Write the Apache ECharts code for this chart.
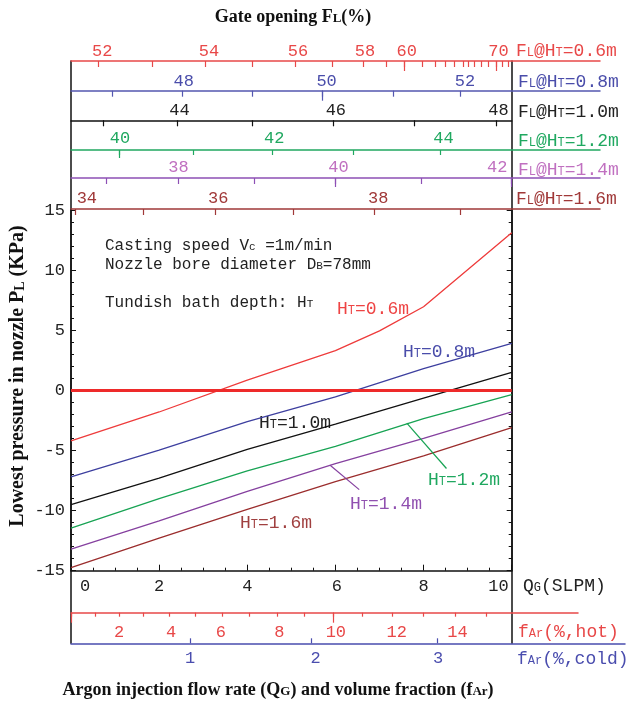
<!DOCTYPE html>
<html>
<head>
<meta charset="utf-8">
<script src="https://cdn.jsdelivr.net/npm/echarts@6/dist/echarts.min.js"></script>
<style>
  html, body { margin: 0; padding: 0; background: #fff; }
  #chart { width: 631px; height: 707px; }
</style>
</head>
<body>
<div id="chart"></div>
<script>
  var mono = '"Liberation Mono", "DejaVu Sans Mono", monospace'
  var serif = '"Liberation Serif", "DejaVu Serif", serif'

  // argon flow rate QG (SLPM) and lowest nozzle pressure PL (KPa), one list per bath depth
  var qgRed = [0, 2, 4, 6, 7, 8, 10]
  var qgAll = [0, 2, 4, 6, 8, 10]
  var pl06 = [-4.2, -1.8, 0.85, 3.3, 4.95, 6.95, 13.1]
  var pl08 = [-7.2, -4.97, -2.6, -0.55, 1.8, 3.9]
  var pl10 = [-9.5, -7.3, -4.9, -2.8, -0.65, 1.5]
  var pl12 = [-11.45, -9.0, -6.7, -4.65, -2.35, -0.35]
  var pl14 = [-13.2, -10.85, -8.4, -6.1, -4.0, -1.8]
  var pl16 = [-14.75, -12.3, -9.9, -7.6, -5.45, -3.1]

  // leader lines from the curves to their labels (QG, PL)
  var lead12 = [[7.62, -2.73], [8.52, -6.5]]
  var lead14 = [[5.88, -6.23], [6.54, -8.26]]

  // bottom QG tick labels
  var qgLabels = ['0', '2', '4', '6', '8', '10']
  var qgLabelAt = [0.32, 2.0, 4.0, 6.03, 8.0, 9.7]

  // gate opening FL scales, ticks given at their QG position
  var fl06Ticks = [0.61, 1.84, 3.04, 4.12, 5.09, 5.93, 6.64, 7.16, 7.56, 7.98, 8.27, 8.5, 8.69, 8.89, 9.02, 9.16, 9.31, 9.46, 9.66, 9.78, 9.93]
  var fl06Long = [7.56, 9.66]
  var fl06Labels = ['52', '54', '56', '58', '60', '70']
  var fl06LabelAt = [0.71, 3.13, 5.15, 6.67, 7.62, 9.7]

  var fl08Ticks = [0.94, 2.52, 4.12, 5.7, 7.31, 8.83]
  var fl08Long = [5.7]
  var fl08Labels = ['48', '50', '52']
  var fl08LabelAt = [2.56, 5.8, 8.94]

  var fl10Ticks = [0.73, 2.4, 4.12, 5.94, 7.78, 9.66]
  var fl10Labels = ['44', '46', '48']
  var fl10LabelAt = [2.46, 6.01, 9.7]

  var fl12Ticks = [1.09, 2.78, 4.56, 6.41, 8.37]
  var fl12Long = [1.09]
  var fl12Labels = ['40', '42', '44']
  var fl12LabelAt = [1.11, 4.61, 8.45]

  var fl14Ticks = [0.79, 2.43, 4.15, 5.99, 7.94, 9.98]
  var fl14Long = [5.99, 9.98]
  var fl14Labels = ['38', '40', '42']
  var fl14LabelAt = [2.44, 6.07, 9.67]

  var fl16Ticks = [0.1, 1.63, 3.27, 5.04, 6.88, 8.83]
  var fl16Labels = ['34', '36', '38']
  var fl16LabelAt = [0.36, 3.34, 6.97]

  // argon volume fraction scales
  var farHotTicks = [0, 0.545, 1.09, 1.64, 2.22, 2.83, 3.43, 4.04, 4.67, 5.29, 5.95, 6.61, 7.3, 7.99, 8.71, 9.43]
  var farHotLong = [0, 5.95]
  var farHotLabels = ['2', '4', '6', '8', '10', '12', '14']
  var farHotLabelAt = [1.09, 2.27, 3.4, 4.73, 6.01, 7.39, 8.77]

  var farColdTicks = [2.7, 5.46, 8.3]
  var farColdLabels = ['1', '2', '3']
  var farColdLabelAt = [2.7, 5.55, 8.33]

  var cRed = '#ee3b3b'
  var cBlue = '#3d3f9f'
  var cBlack = '#111111'
  var cGreen = '#17a353'
  var cPurple = '#85409f'
  var cBrown = '#9b2d2d'

  var plotW = 440.7   // px from QG=0 to QG=10

  function pairs (xs, ys) {
    return xs.map(function (x, i) { return [x, ys[i]] })
  }

  function pick (at, txt) {
    return function (v) {
      for (var i = 0; i < at.length; i++) {
        if (Math.abs(at[i] - v) < 1e-9) return txt[i]
      }
      return ''
    }
  }

  function scaleAxis (o) {
    return {
      gridIndex: o.grid,
      type: 'value',
      min: 0,
      max: o.max,
      position: o.pos,
      offset: o.offset || 0,
      axisLine: { show: o.line !== false, onZero: false, lineStyle: { color: o.color, width: 1.5 } },
      axisTick: o.ticks
        ? { show: true, inside: o.inside, length: o.len, customValues: o.ticks, lineStyle: { color: o.color, width: 1.2 } }
        : { show: false },
      axisLabel: o.labelAt
        ? { show: true, customValues: o.labelAt, formatter: pick(o.labelAt, o.labels), margin: o.margin,
            color: o.labelColor || o.color, fontFamily: mono, fontSize: 17 }
        : { show: false },
      splitLine: { show: false },
      minorTick: { show: false },
      silent: true
    }
  }

  function hiddenAxis (grid) {
    return { gridIndex: grid, type: 'value', min: 0, max: 1, show: false }
  }

  function frameAxis (grid, pos) {
    return {
      gridIndex: grid, type: 'value', min: 0, max: 1, position: pos,
      axisLine: { show: true, onZero: false, lineStyle: { color: cBlack, width: 1.5 } },
      axisTick: { show: false }, axisLabel: { show: false }, splitLine: { show: false }
    }
  }

  // monospace text with small-capital parts written as {s|..}
  function txt (x, y, text, color, size, extra) {
    var small = Math.round(size * 0.68)
    var el = {
      type: 'text', x: x, y: y, silent: true,
      style: {
        text: text, fill: color,
        font: size + 'px ' + mono, fontSize: size, fontFamily: mono,
        align: 'left', verticalAlign: 'middle',
        rich: {
          s: { font: small + 'px ' + mono, fontSize: small, fontFamily: mono, verticalAlign: 'bottom', padding: [0, 0, 1, 0] }
        }
      }
    }
    return Object.assign(el, extra || {})
  }

  function titleTxt (x, y, text, size, extra) {
    var small = Math.round(size * 0.72)
    var el = {
      type: 'text', x: x, y: y, silent: true,
      style: {
        text: text, fill: '#111',
        font: 'bold ' + size + 'px ' + serif, fontSize: size, fontWeight: 'bold', fontFamily: serif,
        align: 'center', verticalAlign: 'middle',
        rich: {
          s: { font: 'bold ' + small + 'px ' + serif, fontSize: small, fontWeight: 'bold', fontFamily: serif,
            verticalAlign: 'bottom', padding: [0, 0, 1, 0] }
        }
      }
    }
    return Object.assign(el, extra || {})
  }

  function curve (xs, ys, color, extra) {
    return Object.assign({
      type: 'line',
      data: pairs(xs, ys),
      symbol: 'none',
      showSymbol: false,
      smooth: false,
      silent: true,
      lineStyle: { color: color, width: 1.3 },
      itemStyle: { color: color }
    }, extra || {})
  }

  function leader (pts, color) {
    return {
      silent: true,
      symbol: ['none', 'none'],
      label: { show: false },
      lineStyle: { color: color, width: 1.2, type: 'solid' },
      data: [[{ coord: pts[0] }, { coord: pts[1] }]]
    }
  }

  var topMax = 10 * 529 / plotW
  var hotMax = 10 * 507 / plotW
  var coldMax = 10 * 554 / plotW

  var chart = echarts.init(document.getElementById('chart'), null, { renderer: 'canvas' })

  chart.setOption({
    animation: false,
    backgroundColor: '#fff',
    grid: [
      { left: 71, top: 210, width: plotW, height: 360.7, containLabel: false, outerBoundsMode: 'none' },
      { left: 71, top: 210, width: 529, height: 360, containLabel: false, outerBoundsMode: 'none' },
      { left: 71, top: 560, width: 507, height: 52.7, containLabel: false, outerBoundsMode: 'none' },
      { left: 71, top: 600, width: 554, height: 43.3, containLabel: false, outerBoundsMode: 'none' },
      { left: 71, top: 61, width: plotW, height: 582.3, containLabel: false, outerBoundsMode: 'none' }
    ],
    xAxis: [
      {
        gridIndex: 0, type: 'value', min: 0, max: 10, interval: 2, position: 'bottom',
        axisLine: { onZero: false, lineStyle: { color: cBlack, width: 1.5 } },
        axisTick: { inside: true, length: 6, lineStyle: { color: cBlack } },
        minorTick: { show: true, splitNumber: 4, length: 3, lineStyle: { color: cBlack } },
        axisLabel: { customValues: qgLabelAt, formatter: pick(qgLabelAt, qgLabels), margin: 7,
          color: '#222', fontFamily: mono, fontSize: 17 },
        splitLine: { show: false }
      },
      scaleAxis({ grid: 0, max: 10, pos: 'top', offset: 89.7, color: cBlack, ticks: fl10Ticks, inside: true, len: 6,
        labelAt: fl10LabelAt, labels: fl10Labels, margin: 1, labelColor: '#222' }),
      scaleAxis({ grid: 1, max: topMax, pos: 'top', offset: 149, color: '#e84848', ticks: fl06Ticks, inside: true, len: 6,
        labelAt: fl06LabelAt, labels: fl06Labels, margin: 1 }),
      scaleAxis({ grid: 1, max: topMax, pos: 'top', offset: 149, color: '#e84848', ticks: fl06Long, inside: true, len: 10, line: false }),
      scaleAxis({ grid: 1, max: topMax, pos: 'top', offset: 119.3, color: '#5457b0', ticks: fl08Ticks, inside: true, len: 6,
        labelAt: fl08LabelAt, labels: fl08Labels, margin: 1, labelColor: '#4a4daa' }),
      scaleAxis({ grid: 1, max: topMax, pos: 'top', offset: 119.3, color: '#5457b0', ticks: fl08Long, inside: true, len: 10, line: false }),
      scaleAxis({ grid: 1, max: topMax, pos: 'top', offset: 60, color: '#20a860', ticks: fl12Ticks, inside: true, len: 5,
        labelAt: fl12LabelAt, labels: fl12Labels, margin: 3 }),
      scaleAxis({ grid: 1, max: topMax, pos: 'top', offset: 60, color: '#20a860', ticks: fl12Long, inside: true, len: 8, line: false }),
      scaleAxis({ grid: 1, max: topMax, pos: 'top', offset: 32, color: '#8d50b5', ticks: fl14Ticks, inside: true, len: 6,
        labelAt: fl14LabelAt, labels: fl14Labels, margin: 2, labelColor: '#c070c0' }),
      scaleAxis({ grid: 1, max: topMax, pos: 'top', offset: 32, color: '#8d50b5', ticks: fl14Long, inside: true, len: 9, line: false }),
      scaleAxis({ grid: 1, max: topMax, pos: 'top', offset: 1, color: '#a03838', ticks: fl16Ticks, inside: true, len: 6,
        labelAt: fl16LabelAt, labels: fl16Labels, margin: 2 }),
      scaleAxis({ grid: 2, max: hotMax, pos: 'bottom', color: '#e84848', ticks: farHotTicks, inside: false, len: 4,
        labelAt: farHotLabelAt, labels: farHotLabels, margin: 11 }),
      scaleAxis({ grid: 2, max: hotMax, pos: 'bottom', color: '#e84848', ticks: farHotLong, inside: false, len: 10, line: false }),
      scaleAxis({ grid: 3, max: coldMax, pos: 'bottom', color: '#4a4dae', ticks: farColdTicks, inside: true, len: 5,
        labelAt: farColdLabelAt, labels: farColdLabels, margin: 7 }),
      hiddenAxis(4)
    ],
    yAxis: [
      {
        gridIndex: 0, type: 'value', min: -15, max: 15, interval: 5, position: 'left',
        axisLine: { onZero: false, lineStyle: { color: cBlack, width: 1.5 } },
        axisTick: { inside: true, length: 5, lineStyle: { color: cBlack } },
        minorTick: { show: true, splitNumber: 5, length: 3, lineStyle: { color: cBlack } },
        axisLabel: { margin: 6, color: '#222', fontFamily: mono, fontSize: 17 },
        splitLine: { show: false }
      },
      {
        gridIndex: 0, type: 'value', min: -15, max: 15, interval: 5, position: 'right',
        axisLine: { onZero: false, lineStyle: { color: cBlack, width: 1.5 } },
        axisTick: { inside: true, length: 5, lineStyle: { color: cBlack } },
        minorTick: { show: true, splitNumber: 5, length: 3, lineStyle: { color: cBlack } },
        axisLabel: { show: false },
        splitLine: { show: false }
      },
      hiddenAxis(1),
      hiddenAxis(2),
      hiddenAxis(3),
      frameAxis(4, 'left'),
      frameAxis(4, 'right')
    ],
    series: [
      curve(qgRed, pl06, cRed, {
        markLine: {
          silent: true, symbol: ['none', 'none'], label: { show: false },
          lineStyle: { color: '#ee2a2a', width: 3, type: 'solid' },
          data: [{ yAxis: 0 }]
        }
      }),
      curve(qgAll, pl08, cBlue),
      curve(qgAll, pl10, cBlack),
      curve(qgAll, pl12, cGreen, { markLine: leader(lead12, cGreen) }),
      curve(qgAll, pl14, cPurple, { markLine: leader(lead14, cPurple) }),
      curve(qgAll, pl16, cBrown)
    ],
    graphic: [
      titleTxt(293, 17, 'Gate opening F{s|L}(%)', 18),
      titleTxt(278, 690, 'Argon injection flow rate (Q{s|G}) and volume fraction (f{s|Ar})', 18),
      titleTxt(18, 376, 'Lowest pressure in nozzle P{s|L} (KPa)', 20, { rotation: Math.PI / 2 }),

      txt(516, 51, 'F{s|L}@H{s|T}=0.6m', '#e84848', 18),
      txt(518, 82, 'F{s|L}@H{s|T}=0.8m', '#4a4daa', 18),
      txt(518, 112, 'F{s|L}@H{s|T}=1.0m', '#222', 18),
      txt(518, 141, 'F{s|L}@H{s|T}=1.2m', '#20a860', 18),
      txt(518, 170, 'F{s|L}@H{s|T}=1.4m', '#c070c0', 18),
      txt(516, 199, 'F{s|L}@H{s|T}=1.6m', '#a03838', 18),
      txt(523, 586, 'Q{s|G}(SLPM)', '#222', 18),
      txt(518, 632, 'f{s|Ar}(%,hot)', '#e84848', 18),
      txt(517, 659, 'f{s|Ar}(%,cold)', '#4a4dae', 18),

      txt(105, 246, 'Casting speed V{s|c} =1m/min', '#222', 16),
      txt(105, 265, 'Nozzle bore diameter D{s|B}=78mm', '#222', 16),
      txt(105, 303, 'Tundish bath depth: H{s|T}', '#222', 16),

      txt(337, 309, 'H{s|T}=0.6m', '#ee4444', 18),
      txt(403, 352, 'H{s|T}=0.8m', '#4a4daa', 18),
      txt(259, 423, 'H{s|T}=1.0m', '#222', 18),
      txt(428, 480, 'H{s|T}=1.2m', '#20a860', 18),
      txt(350, 504, 'H{s|T}=1.4m', '#9050b0', 18),
      txt(240, 523, 'H{s|T}=1.6m', '#a04040', 18)
    ]
  })
</script>
</body>
</html>
